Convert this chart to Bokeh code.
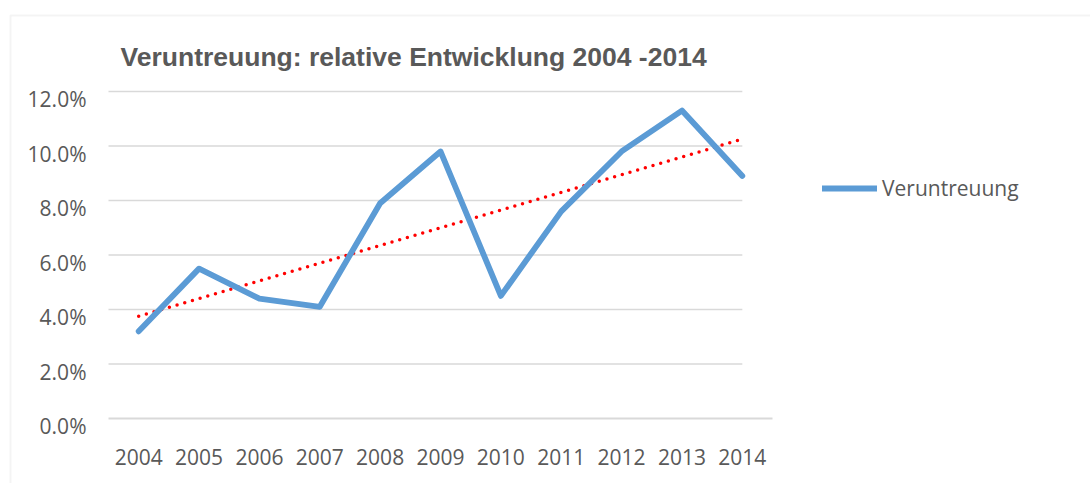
import numpy as np
from bokeh.plotting import figure
from bokeh.models import (ColumnDataSource, FixedTicker, Range1d, Legend, LegendItem,
                          Label, BoxAnnotation, LinearAxis)
from bokeh.embed import file_html
from bokeh.resources import INLINE

# ---- data ----
title_text = "Veruntreuung: relative Entwicklung 2004 -2014"
series_name = "Veruntreuung"
years = [2004, 2005, 2006, 2007, 2008, 2009, 2010, 2011, 2012, 2013, 2014]
veruntreuung = [3.2, 5.5, 4.4, 4.1, 7.9, 9.8, 4.5, 7.6, 9.8, 11.3, 8.9]
y_ticks = [0, 2, 4, 6, 8, 10, 12]
y_tick_labels = ["0.0%", "2.0%", "4.0%", "6.0%", "8.0%", "10.0%", "12.0%"]

# ---- styling / layout ----
BLUE = "#5B9BD5"
RED = "#FF0000"
GRID = "#D9D9D9"
TEXT = "#595959"
FONT = "Open Sans"
FS = "21px"

W, H = 1090, 483
PLOT_LEFT, PLOT_RIGHT = 108, 772      # pixel edges of the plotting area
Y0_PX, PX_PER_UNIT = 418, 27.25        # pixel row of 0 %, pixels per 1 %

x_lo, x_hi = years[0] - 0.5, years[-1] + 0.5
px_per_year = (PLOT_RIGHT - PLOT_LEFT) / (x_hi - x_lo)
xs = x_lo - PLOT_LEFT / px_per_year
xe = xs + W / px_per_year
ye = Y0_PX / PX_PER_UNIT
ys = -(H - Y0_PX) / PX_PER_UNIT
shift = 7.5 / PX_PER_UNIT              # y tick labels sit slightly below their gridline

p = figure(width=W, height=H, output_backend="svg", toolbar_location=None,
           x_range=Range1d(xs, xe), y_range=Range1d(ys, ye),
           x_axis_type=None, y_axis_type=None,
           min_border=0, min_border_left=0, min_border_right=0,
           min_border_top=0, min_border_bottom=0)
p.title.visible = False
p.outline_line_color = None
p.background_fill_color = "white"
p.border_fill_color = "white"
p.extra_y_ranges = {"lab": Range1d(ys + shift, ye + shift)}

# chart border
p.add_layout(BoxAnnotation(left=10, right=1200, top=15, bottom=700,
                           left_units="canvas", right_units="canvas",
                           top_units="canvas", bottom_units="canvas",
                           fill_alpha=0, line_color=GRID, line_width=2))

# horizontal gridlines (end at last category)
gsrc = ColumnDataSource(dict(y=[t for t in y_ticks if t > 0]))
p.segment(x0=x_lo, x1=years[-1], y0="y", y1="y", source=gsrc,
          line_color=GRID, line_width=1.6)

# x axis (category axis at 0 %)
xaxis = LinearAxis(fixed_location=0, bounds=(x_lo, x_hi), ticker=FixedTicker(ticks=years))
xaxis.axis_line_color = GRID
xaxis.axis_line_width = 2
xaxis.major_tick_line_color = None
xaxis.minor_tick_line_color = None
xaxis.major_tick_out = 0
xaxis.major_tick_in = 0
xaxis.major_label_standoff = 30
xaxis.major_label_text_font = FONT
xaxis.major_label_text_font_size = FS
xaxis.major_label_text_color = TEXT
p.add_layout(xaxis, "below")

# y axis (labels only)
yaxis = LinearAxis(y_range_name="lab", fixed_location=x_lo, ticker=FixedTicker(ticks=y_ticks))
yaxis.major_label_overrides = {t: l for t, l in zip(y_ticks, y_tick_labels)}
yaxis.axis_line_color = None
yaxis.major_tick_line_color = None
yaxis.minor_tick_line_color = None
yaxis.major_tick_out = 0
yaxis.major_tick_in = 0
yaxis.major_label_standoff = 22
yaxis.major_label_text_font = FONT
yaxis.major_label_text_font_size = FS
yaxis.major_label_text_color = TEXT
p.add_layout(yaxis, "left")

# trend line (linear regression)
k, d = np.polyfit(years, veruntreuung, 1)
tx = [years[0], years[-1]]
ty = [k * x + d for x in tx]
p.line(tx, ty, line_color=RED, line_width=3.5, line_dash="0 8", line_cap="round")

# main series
src = ColumnDataSource(dict(x=years, y=veruntreuung))
r = p.line("x", "y", source=src, line_color=BLUE, line_width=5.8,
           line_join="round", line_cap="round")

# legend
legend = Legend(items=[LegendItem(label=series_name, renderers=[r])],
                location=(822, 265 + (H - 467)), glyph_width=55, glyph_height=20,
                label_height=20, label_standoff=5, padding=0, margin=0,
                border_line_color=None, background_fill_alpha=0,
                label_text_font=FONT, label_text_font_size=FS,
                label_text_color=TEXT)
p.add_layout(legend)

# title
p.add_layout(Label(x=x_lo, y=12, x_offset=12, y_offset=35, text=title_text,
                   text_font="Liberation Sans", text_font_style="bold",
                   text_font_size="26.5px", text_color=TEXT,
                   text_align="left", text_baseline="alphabetic"))

open("out.html", "w").write(file_html(p, INLINE))
